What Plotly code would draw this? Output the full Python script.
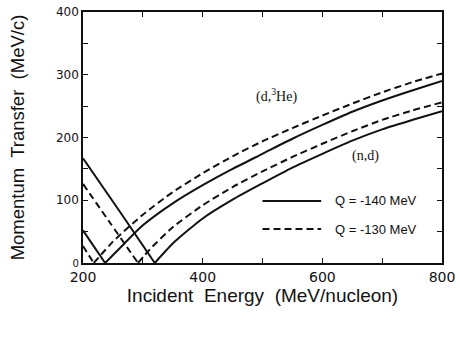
import plotly.graph_objects as go

# ---- data (energy in MeV/nucleon, q in MeV/c) ----
# (n,d) reaction, Q = -140 MeV (solid)
nd140_left_x = [200, 260, 320]
nd140_left_y = [167, 84, 0]
nd140_right_x = [320, 350, 400, 450, 500, 550, 600, 650, 700, 750, 800]
nd140_right_y = [0, 31, 71, 101, 127, 152, 174, 195, 213, 228, 242]

# (n,d) reaction, Q = -130 MeV (dashed)
nd130_left_x = [200, 246, 292]
nd130_left_y = [126, 63, 0]
nd130_right_x = [292, 312, 350, 400, 450, 500, 550, 600, 650, 700, 750, 800]
nd130_right_y = [0, 22, 57, 92, 121, 146, 169, 190, 210, 228, 243, 256]

# (d,3He) reaction, Q = -140 MeV (solid)
dhe140_left_x = [200, 237]
dhe140_left_y = [52, 0]
dhe140_right_x = [237, 270, 300, 350, 400, 450, 500, 550, 600, 650, 700, 750, 800]
dhe140_right_y = [0, 32, 60, 95, 124, 150, 174, 198, 220, 241, 259, 275, 290]

# (d,3He) reaction, Q = -130 MeV (dashed)
dhe130_left_x = [200, 218]
dhe130_left_y = [27, 0]
dhe130_right_x = [218, 250, 300, 350, 400, 450, 500, 550, 600, 650, 700, 750, 800]
dhe130_right_y = [0, 34, 77, 113, 143, 170, 194, 215, 235, 254, 272, 288, 302]

x_ticks = [200, 400, 600, 800]
y_ticks = [0, 100, 200, 300, 400]
legend_labels = ["Q = -140 MeV", "Q = -130 MeV"]

SOLID = "solid"
DASH = "7px,4px"
LW = 2.0
INK = "#111111"

fig = go.Figure()

def add(xs, ys, dash, name):
    fig.add_trace(go.Scatter(x=xs, y=ys, mode="lines", name=name, showlegend=False,
                             line=dict(color=INK, width=LW, dash=dash, shape="spline", smoothing=0.6)))

add(nd140_left_x, nd140_left_y, SOLID, "(n,d) Q=-140")
add(nd140_right_x, nd140_right_y, SOLID, "(n,d) Q=-140")
add(nd130_left_x, nd130_left_y, DASH, "(n,d) Q=-130")
add(nd130_right_x, nd130_right_y, DASH, "(n,d) Q=-130")
add(dhe140_left_x, dhe140_left_y, SOLID, "(d,3He) Q=-140")
add(dhe140_right_x, dhe140_right_y, SOLID, "(d,3He) Q=-140")
add(dhe130_left_x, dhe130_left_y, DASH, "(d,3He) Q=-130")
add(dhe130_right_x, dhe130_right_y, DASH, "(d,3He) Q=-130")

# legend drawn inside the plot
leg_y = [99, 54]
leg_dash = [SOLID, DASH]
for ly, ld, lab in zip(leg_y, leg_dash, legend_labels):
    fig.add_shape(type="line", xref="x", yref="y", x0=500, x1=598, y0=ly, y1=ly,
                  line=dict(color=INK, width=LW, dash=ld))
    fig.add_annotation(x=617, y=ly, xref="x", yref="y", text=lab,
                       showarrow=False, xanchor="left", yanchor="middle",
                       font=dict(family="Liberation Sans, Arial", size=13, color=INK))

fig.add_annotation(x=523, y=267, xref="x", yref="y", text="(d,<sup>3</sup>He)", showarrow=False,
                   font=dict(family="Liberation Serif, Times New Roman", size=14, color=INK))
fig.add_annotation(x=672, y=170, xref="x", yref="y", text="(n,d)", showarrow=False,
                   font=dict(family="Liberation Serif, Times New Roman", size=14, color=INK))

axis_common = dict(showgrid=False, zeroline=False, showline=True, linecolor=INK, linewidth=1.5,
                   mirror="ticks", ticks="inside", tickcolor=INK, ticklen=5, tickwidth=1.2)

fig.update_xaxes(range=[200, 800], tickvals=x_ticks, ticktext=[str(v) for v in x_ticks],
                 minor=dict(dtick=100, tick0=200, ticks="inside", ticklen=5, tickcolor=INK, tickwidth=1.2),
                 tickfont=dict(family="DejaVu Sans, Arial", size=14, color=INK),
                 ticklabelstandoff=0,
                 title=dict(text="Incident  Energy  (MeV/nucleon)", standoff=2,
                            font=dict(family="Liberation Sans, Arial", size=19, color=INK)),
                 **axis_common)
fig.update_yaxes(range=[0, 400], tickvals=y_ticks,
                 ticktext=["<span style='font-size:10px'>0</span>"] + [str(v) for v in y_ticks[1:]],
                 minor=dict(dtick=50, tick0=0, ticks="inside", ticklen=5, tickcolor=INK, tickwidth=1.2),
                 tickfont=dict(family="DejaVu Sans, Arial", size=12, color=INK),
                 title=dict(text="Momentum  Transfer  (MeV/c)", standoff=26,
                            font=dict(family="Liberation Sans, Arial", size=18.5, color=INK)),
                 **axis_common)

fig.update_layout(width=460, height=337, margin=dict(l=83, r=17, t=5, b=74),
                  paper_bgcolor="white", plot_bgcolor="white", showlegend=False)

fig.write_html("out.html")
